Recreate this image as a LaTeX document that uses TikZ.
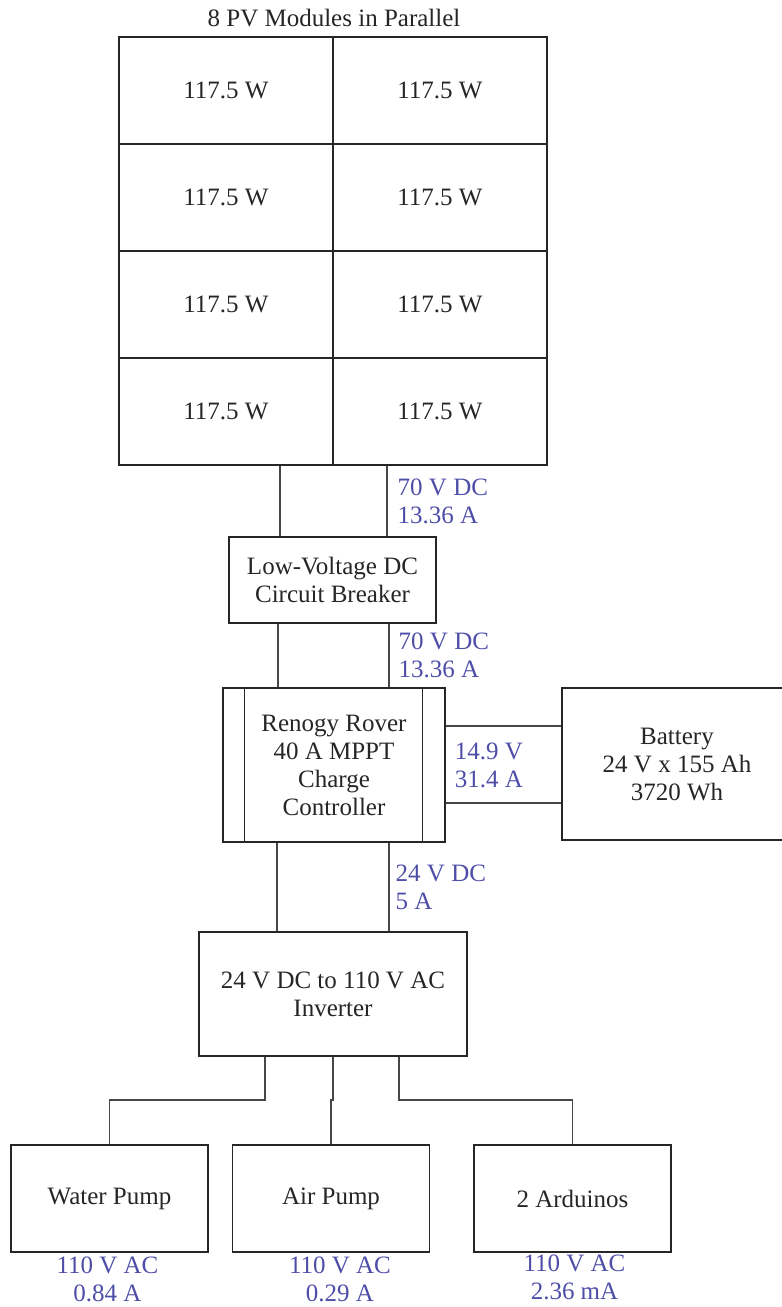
\documentclass[tikz,border=0pt]{standalone}
\usepackage{fontspec}
\setmainfont{Liberation Serif}
\usetikzlibrary{positioning}
\definecolor{ratingblue}{RGB}{78,78,168}
\newcommand{\diagfont}{\fontsize{25}{28}\selectfont}
\begin{document}
\begin{tikzpicture}[x=1pt, y=-1pt,
  box/.style={draw=black!85, line width=1.4pt, inner sep=0pt, align=center, text=black!85, font=\diagfont},
  cell/.style={box, minimum width=214pt, minimum height=107pt},
  load/.style={box, minimum width=197pt, minimum height=107pt},
  wire/.style={draw=black!72, line width=1.4pt},
  rating/.style={text=ratingblue, inner sep=0pt, align=left, font=\diagfont}]
  \useasboundingbox (0,0) rectangle (782,1307);
  % PV array
  \node[font=\diagfont, text=black!85] (ttl) at (334,18) {8 PV Modules in Parallel};
  \foreach \r in {1,...,4}
    \foreach \c in {1,2}
      \node[cell] (pv\r\c) at ({12+214*\c},{-16.5+107*\r}) {117.5 W};
  % Breaker
  \node[box, minimum width=207pt, minimum height=86pt] (brk) at (332.5,580) {Low-Voltage DC\\Circuit Breaker};
  \draw[wire] ([xshift=-52.5pt]brk.north) -- ([xshift=-52.5pt]brk.north |- pv41.south);
  \draw[wire] ([xshift=54.5pt]brk.north) -- ([xshift=54.5pt]brk.north |- pv42.south)
    node[rating, midway, right=10pt] {70 V DC\\13.36 A};
  % Charge controller
  \node[box, minimum width=222pt, minimum height=154pt] (ctrl) at (334,765) {Renogy Rover\\40 A MPPT\\Charge\\Controller};
  \draw[draw=black!85, line width=1.4pt] ([xshift=22pt]ctrl.north west) -- ([xshift=22pt]ctrl.south west);
  \draw[draw=black!85, line width=1.4pt] ([xshift=-23pt]ctrl.north east) -- ([xshift=-23pt]ctrl.south east);
  \draw[wire] ([xshift=-56pt]ctrl.north) -- ([xshift=-56pt]ctrl.north |- brk.south);
  \draw[wire] ([xshift=55pt]ctrl.north) -- ([xshift=55pt]ctrl.north |- brk.south)
    node[rating, midway, right=9pt] {70 V DC\\13.36 A};
  % Battery
  \node[box, minimum width=230pt, minimum height=152pt] (bat) at (677,764) {Battery\\24 V x 155 Ah\\3720 Wh};
  \draw[wire] ([yshift=39pt]ctrl.east) -- ([yshift=39pt]ctrl.east -| bat.west);
  \draw[wire] ([yshift=-38pt]ctrl.east) -- ([yshift=-38pt]ctrl.east -| bat.west);
  \node[rating, right=9pt of ctrl.east] (chg) {14.9 V\\31.4 A};
  % Inverter
  \node[box, minimum width=268pt, minimum height=124pt] (inv) at (333,994) {24 V DC to 110 V AC\\Inverter};
  \draw[wire] ([xshift=-56pt]inv.north) -- ([xshift=-56pt]inv.north |- ctrl.south);
  \draw[wire] ([xshift=56pt]inv.north) -- ([xshift=56pt]inv.north |- ctrl.south)
    node[rating, midway, right=6pt] {24 V DC\\5 A};
  % Loads
  \coordinate (bus) at (0,1100);
  \node[load] (wp) at (109.5,1198.5) {Water Pump};
  \node[load] (ap) at (331,1198.5) {Air Pump};
  \node[load] (ard) at (572.5,1198.5) {2 Arduinos};
  \draw[wire] ([xshift=-68pt]inv.south) -- ([xshift=-68pt]inv.south |- bus) -| (wp.north);
  \draw[wire] (inv.south) -- (inv.south |- bus) -| (ap.north);
  \draw[wire] ([xshift=66pt]inv.south) -- ([xshift=66pt]inv.south |- bus) -| (ard.north);
  % Load ratings
  \node[rating, align=center, below=4pt of wp.south, xshift=-2pt] (wpr) {110 V AC\\0.84 A};
  \node[rating, align=center, below=4pt of ap.south, xshift=9pt] (apr) {110 V AC\\0.29 A};
  \node[rating, align=center, below=2pt of ard.south, xshift=2pt] (ardr) {110 V AC\\2.36 mA};
\end{tikzpicture}
\end{document}
